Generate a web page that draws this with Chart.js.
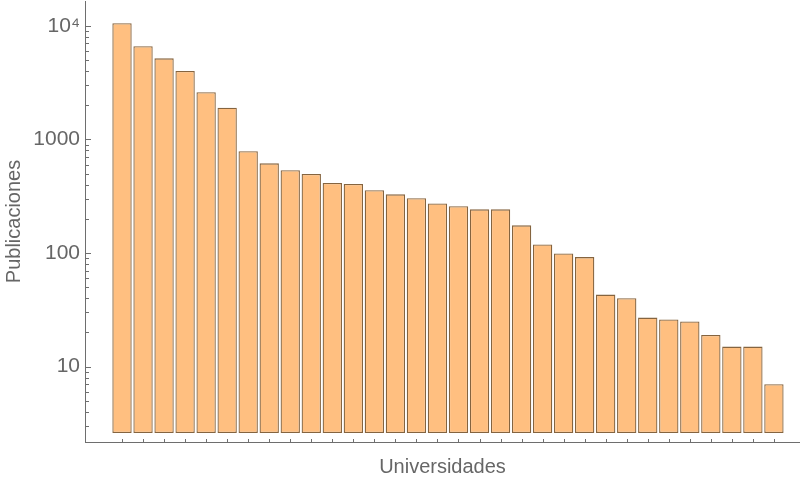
<!DOCTYPE html>
<html>
<head>
<meta charset="utf-8">
<script src="https://cdn.jsdelivr.net/npm/chart.js@4.4.1/dist/chart.umd.min.js"></script>
<style>
  html, body { margin: 0; padding: 0; background: #fff; }
  #wrap { width: 800px; height: 480px; }
</style>
</head>
<body>
<div id="wrap"><canvas id="chart"></canvas></div>
<script>
// publicaciones por universidad (ordenadas de mayor a menor)
const universidades = [
  1, 2, 3, 4, 5, 6, 7, 8, 9, 10, 11, 12, 13, 14, 15, 16,
  17, 18, 19, 20, 21, 22, 23, 24, 25, 26, 27, 28, 29, 30, 31, 32,
];
const publicaciones = [
  10500, 6600, 5160, 4000, 2600, 1900, 785, 615, 534, 496, 413, 405,
  356, 328, 303, 273, 258, 242, 242, 175, 119, 99, 92, 43, 40, 27,
  26, 25, 19, 15, 15, 7,
];
const majorTicks = [10, 100, 1000, 10000];
const majorLabels = ["10", "100", "1000", "10⁴"];
const minorTicks = [
  3, 4, 5, 6, 7, 8, 9,
  20, 30, 40, 50, 60, 70, 80, 90,
  200, 300, 400, 500, 600, 700, 800, 900,
  2000, 3000, 4000, 5000, 6000, 7000, 8000, 9000,
];

const axisColor = "#6e6e6e";
const textColor = "#666666";

// Mathematica style: tick marks drawn inside the frame
const insideTicks = {
  id: "insideTicks",
  afterDraw(chart) {
    const { ctx, scales } = chart;
    const x = scales.x, y = scales.y;
    ctx.save();
    ctx.strokeStyle = axisColor;
    ctx.lineWidth = 1;
    ctx.beginPath();
    majorTicks.forEach((v) => {
      const py = Math.round(y.getPixelForValue(v)) + 0.5;
      ctx.moveTo(x.left, py);
      ctx.lineTo(x.left + 6, py);
    });
    minorTicks.forEach((v) => {
      const py = Math.round(y.getPixelForValue(v)) + 0.5;
      ctx.moveTo(x.left, py);
      ctx.lineTo(x.left + 4, py);
    });
    universidades.forEach((u) => {
      const px = Math.round(x.getPixelForValue(u)) + 0.5;
      ctx.moveTo(px, y.bottom);
      ctx.lineTo(px, y.bottom - 3);
    });
    ctx.stroke();
    ctx.restore();
  },
};

const data = {
  datasets: [
    {
      label: "Publicaciones",
      data: universidades.map((u, i) => ({ x: u, y: publicaciones[i] })),
      base: 2.6,
      backgroundColor: "#ffbf80",
      borderColor: "#85643f",
      borderWidth: 1.3,
      borderSkipped: false,
      barPercentage: 0.92,
      categoryPercentage: 1,
    },
  ],
};

const config = {
  type: "bar",
  data: data,
  plugins: [insideTicks],
  options: {
    responsive: false,
    animation: false,
    layout: { padding: { top: 1, right: 0, left: 0, bottom: 0 } },
    plugins: {
      legend: { display: false },
      tooltip: { enabled: false },
    },
    scales: {
      x: {
        type: "linear",
        offset: false,
        min: -0.76,
        max: 33.24,
        afterBuildTicks: (scale) => {
          scale.ticks = universidades.map((u) => ({ value: u }));
        },
        afterFit: (scale) => {
          scale.height = 38;
          scale.paddingLeft = 0;
          scale.paddingRight = 0;
        },
        ticks: { display: false },
        grid: { display: false },
        border: { color: axisColor, width: 1 },
        title: {
          display: true,
          text: "Universidades",
          color: textColor,
          font: { family: "Liberation Sans", size: 20 },
          padding: { top: 0, bottom: 1 },
        },
      },
      y: {
        type: "logarithmic",
        min: 2.17,
        max: 16500,
        afterBuildTicks: (scale) => {
          scale.ticks = majorTicks.map((v) => ({ value: v, major: true }));
        },
        afterFit: (scale) => {
          scale.width = 85;
          scale.paddingTop = 0;
          scale.paddingBottom = 0;
        },
        ticks: {
          padding: 5,
          color: textColor,
          font: { family: "Liberation Sans", size: 21 },
          callback: (value) => majorLabels[majorTicks.indexOf(value)],
        },
        grid: { display: false, drawTicks: false },
        border: { color: axisColor, width: 1 },
        title: {
          display: true,
          text: "Publicaciones",
          color: textColor,
          font: { family: "Liberation Sans", size: 20 },
          padding: { top: 2, bottom: 0 },
        },
      },
    },
  },
};

const ctx = document.getElementById("chart");
ctx.width = 800;
ctx.height = 480;
const pubChart = new Chart(ctx, config);
</script>
</body>
</html>
